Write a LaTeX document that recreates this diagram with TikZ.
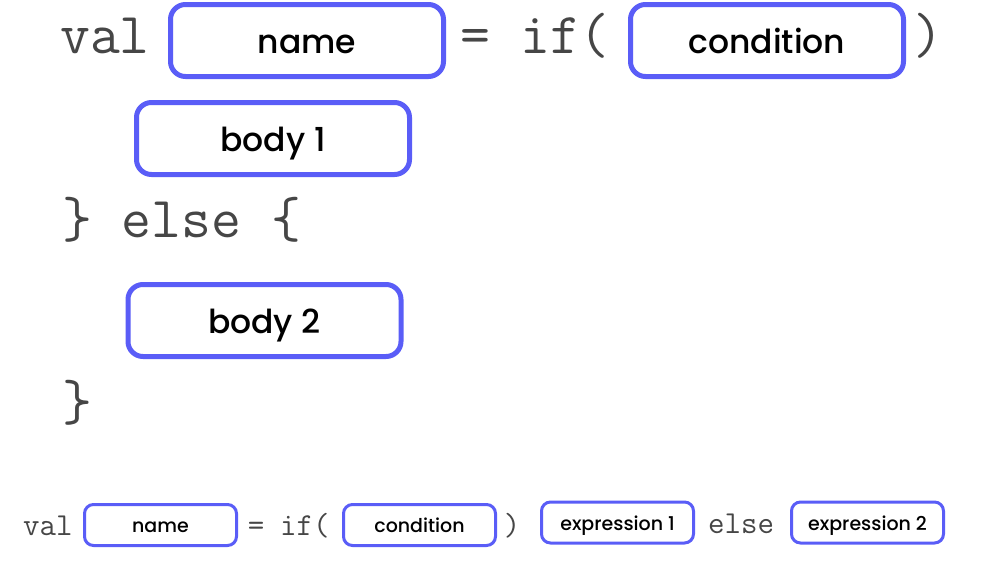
\documentclass[tikz,border=0pt]{standalone}
\usepackage{fontspec}
\setmainfont{Poppins}[UprightFont={* Medium}]
\definecolor{slotblue}{HTML}{5A5DF7}
\definecolor{codegray}{HTML}{464646}
\tikzset{
  slot/.style={draw=slotblue, line width=5pt, rounded corners=15pt, fill=white,
    minimum width=273pt, minimum height=72pt, inner sep=0pt,
    text height=25pt, text depth=0pt,
    font=\fontsize{33}{33}\selectfont, text=black},
  smallslot/.style={draw=slotblue, line width=3pt, rounded corners=9pt, fill=white,
    minimum width=152pt, minimum height=41pt, inner sep=0pt,
    text height=15pt, text depth=0pt,
    font=\fontsize{19}{19}\selectfont, text=black},
  code/.style={inner sep=0pt, text=codegray, font=\ttfamily\fontsize{58}{58}\selectfont},
  smallcode/.style={inner sep=0pt, text=codegray, font=\ttfamily\fontsize{32}{32}\selectfont},
}
\begin{document}
\begin{tikzpicture}[x=1pt, y=-1pt]
\useasboundingbox (0,0) rectangle (994,563);

% block form
\node[code, anchor=base west] (val) at (60,53) {val};
\node[slot] (name) at (307,40.5) {name};
\node[code, anchor=base] (eq) at (475,53) {=};
\node[code, anchor=base west] (if) at (520,53) {if(};
\node[slot] (cond) at (767,40.5) {condition};
\node[code, anchor=base] (close) at (928,53) {)};
\node[slot] (body1) at (273,138.5) {body 1};
\node[code, anchor=base west] (else) at (62,237) {\} else \{};
\node[slot] (body2) at (264.5,320.5) {body 2};
\node[code, anchor=base west] (end) at (62,420) {\}};

% expression form
\node[smallcode, anchor=base west] (sval) at (23,535) {val};
\node[smallslot] (sname) at (160.5,525) {name};
\node[smallcode, anchor=base] (seq) at (256,535) {=};
\node[smallcode, anchor=base west] (sif) at (280,535) {if(};
\node[smallslot] (scond) at (419.5,525) {condition};
\node[smallcode, anchor=base] (sclose) at (512,535) {)};
\node[smallslot] (sexp1) at (617.5,522.5) {expression 1};
\node[smallcode, anchor=base west] (selse) at (708,533) {else};
\node[smallslot] (sexp2) at (867.5,522.5) {expression 2};
\end{tikzpicture}
\end{document}
